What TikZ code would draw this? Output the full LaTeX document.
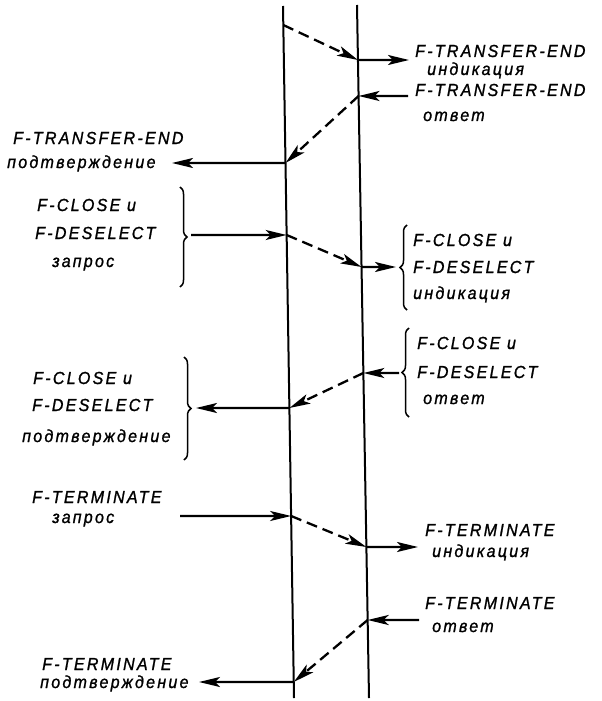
\documentclass[tikz,border=0pt]{standalone}
\usepackage{fontspec}
\newfontfamily\gost{Liberation Sans}[LetterSpace=13,FakeStretch=0.92,FakeBold=1.2]
\usetikzlibrary{arrows.meta,calc,decorations.pathreplacing}
\tikzset{
  lbl/.style={anchor=base west, inner sep=0pt, font=\gost\itshape\fontsize{17.5}{20}\selectfont},
  life/.style={line width=2bp},
  sig/.style={line width=2.3bp, -{Stealth[length=21bp,width=10bp,inset=5bp]}},
  dsig/.style={sig, dash pattern=on 11bp off 6bp},
  brc/.style={line width=1.5bp, decorate, decoration={brace, amplitude=7bp}},
}
\begin{document}
\begin{tikzpicture}[x=1bp,y=-1bp]
\useasboundingbox (0,0) rectangle (602,701);
% life lines
\coordinate (Lt) at (283,6);   \coordinate (Lb) at (294,698);
\coordinate (Rt) at (357,5);   \coordinate (Rb) at (369,698);
\draw[life] (Lt) -- (Lb);
\draw[life] (Rt) -- (Rb);
% points on the life lines
\coordinate (a1) at ($(Lt)!{(25-6)/692}!(Lb)$);
\coordinate (b1) at ($(Rt)!{(60-5)/693}!(Rb)$);
\coordinate (b2) at ($(Rt)!{(96-5)/693}!(Rb)$);
\coordinate (a2) at ($(Lt)!{(163-6)/692}!(Lb)$);
\coordinate (a3) at ($(Lt)!{(235-6)/692}!(Lb)$);
\coordinate (b3) at ($(Rt)!{(267-5)/693}!(Rb)$);
\coordinate (b4) at ($(Rt)!{(373-5)/693}!(Rb)$);
\coordinate (a4) at ($(Lt)!{(408-6)/692}!(Lb)$);
\coordinate (a5) at ($(Lt)!{(516-6)/692}!(Lb)$);
\coordinate (b5) at ($(Rt)!{(547-5)/693}!(Rb)$);
\coordinate (b6) at ($(Rt)!{(620-5)/693}!(Rb)$);
\coordinate (a6) at ($(Lt)!{(682-6)/692}!(Lb)$);
% free ends
\coordinate (c1) at (409,60);
\coordinate (s2) at (408,96);
\coordinate (c2) at (172,163);
\coordinate (s3) at (191,235);
\coordinate (c3) at (396,267);
\coordinate (s4) at (399,373);
\coordinate (c4) at (196,408);
\coordinate (s5) at (180,516);
\coordinate (c5) at (418,547);
\coordinate (s6) at (419,620);
\coordinate (c6) at (199,682);
% labels
\node[lbl] (r1a) at (415,57) {F-TRANSFER-END};
\node[lbl] (r1b) at (427,75) {индикация};
\node[lbl] (r2a) at (415,96) {F-TRANSFER-END};
\node[lbl] (r2b) at (423,121) {ответ};
\node[lbl] (l2a) at (13,144) {F-TRANSFER-END};
\node[lbl] (l2b) at (7,168) {подтверждение};
\node[lbl] (l3a) at (37,211) {F-CLOSE и};
\node[lbl] (l3b) at (35,239) {F-DESELECT};
\node[lbl] (l3c) at (52,267) {запрос};
\node[lbl] (r3a) at (413,246) {F-CLOSE и};
\node[lbl] (r3b) at (413,273) {F-DESELECT};
\node[lbl] (r3c) at (413,299) {индикация};
\node[lbl] (r4a) at (417,349) {F-CLOSE и};
\node[lbl] (r4b) at (417,378) {F-DESELECT};
\node[lbl] (r4c) at (423,404) {ответ};
\node[lbl] (l4a) at (33,384) {F-CLOSE и};
\node[lbl] (l4b) at (32,411) {F-DESELECT};
\node[lbl] (l4c) at (22,442) {подтверждение};
\node[lbl] (l5a) at (32,503) {F-TERMINATE};
\node[lbl] (l5b) at (52,523) {запрос};
\node[lbl] (r5a) at (425,536) {F-TERMINATE};
\node[lbl] (r5b) at (432,557) {индикация};
\node[lbl] (r6a) at (425,609) {F-TERMINATE};
\node[lbl] (r6b) at (432,632) {ответ};
\node[lbl] (l6a) at (42,670) {F-TERMINATE};
\node[lbl] (l6b) at (40,688) {подтверждение};
% braces
\draw[brc] (180,187) -- (180,287);
\draw[brc] (407,310) -- (407,225);
\draw[brc] (409,417) -- (409,328);
\draw[brc] (184,357) -- (184,460);
% signals
\draw[dsig] (a1) -- (b1);
\draw[sig] (b1) -- (c1);
\draw[sig] (s2) -- (b2);
\draw[dsig] (b2) -- (a2);
\draw[sig] (a2) -- (c2);
\draw[sig] (s3) -- (a3);
\draw[dsig] (a3) -- (b3);
\draw[sig] (b3) -- (c3);
\draw[sig] (s4) -- (b4);
\draw[dsig] (b4) -- (a4);
\draw[sig] (a4) -- (c4);
\draw[sig] (s5) -- (a5);
\draw[dsig] (a5) -- (b5);
\draw[sig] (b5) -- (c5);
\draw[sig] (s6) -- (b6);
\draw[dsig] (b6) -- (a6);
\draw[sig] (a6) -- (c6);
\end{tikzpicture}
\end{document}
